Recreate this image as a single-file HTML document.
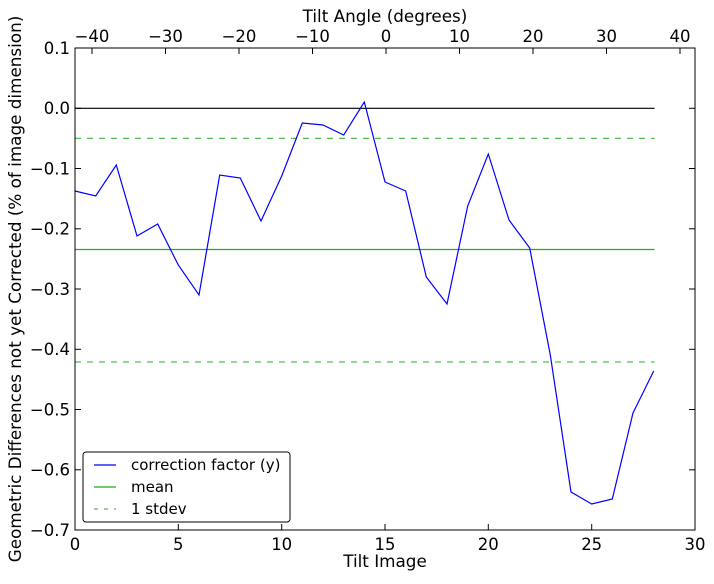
<!DOCTYPE html>
<html><head><meta charset="utf-8"><style>
html,body{margin:0;padding:0;background:#fff}
text{font-family:"DejaVu Sans","Liberation Sans",sans-serif;fill:#000}
</style></head><body>
<svg width="714" height="579" viewBox="0 0 714 579" xmlns="http://www.w3.org/2000/svg">
<rect width="714" height="579" fill="#fff"/>
<line x1="75" y1="108.3" x2="654.6" y2="108.3" stroke="#000" stroke-width="1.2"/>
<line x1="75" y1="249.5" x2="654.6" y2="249.5" stroke="#22aa22" stroke-width="1.2"/>
<line x1="75" y1="138.4" x2="654.6" y2="138.4" stroke="#55bb55" stroke-width="1.2" stroke-dasharray="6,6"/>
<line x1="75" y1="362" x2="654.6" y2="362" stroke="#55bb55" stroke-width="1.2" stroke-dasharray="6,6"/>
<polyline fill="none" stroke="#0000ff" stroke-width="1.2" points="75,191 95.7,196 116.3,165 137,236 157.7,224 178.3,265 199,295 219.7,175 240.3,178 261,221 281.7,176 302.3,123 323,125 343.7,135 364.3,102 385,182 405.7,191 426.3,277 447,304 467.7,206 488.3,154 509,220 529.7,248 550.3,355 571,492 591.7,504 612.3,499 633,413 653.7,371"/>
<rect x="75" y="48" width="620" height="482" fill="none" stroke="#000" stroke-width="1"/>
<g stroke="#000" stroke-width="1">
<line x1="75" y1="530" x2="75" y2="524"/><line x1="178.3" y1="530" x2="178.3" y2="524"/><line x1="281.7" y1="530" x2="281.7" y2="524"/><line x1="385" y1="530" x2="385" y2="524"/><line x1="488.3" y1="530" x2="488.3" y2="524"/><line x1="591.7" y1="530" x2="591.7" y2="524"/><line x1="695" y1="530" x2="695" y2="524"/>
<line x1="92" y1="48" x2="92" y2="54"/><line x1="165.5" y1="48" x2="165.5" y2="54"/><line x1="239" y1="48" x2="239" y2="54"/><line x1="312.5" y1="48" x2="312.5" y2="54"/><line x1="386" y1="48" x2="386" y2="54"/><line x1="459.5" y1="48" x2="459.5" y2="54"/><line x1="533" y1="48" x2="533" y2="54"/><line x1="606.5" y1="48" x2="606.5" y2="54"/><line x1="680" y1="48" x2="680" y2="54"/>
<line x1="75" y1="48" x2="81" y2="48"/><line x1="75" y1="108.3" x2="81" y2="108.3"/><line x1="75" y1="168.5" x2="81" y2="168.5"/><line x1="75" y1="228.8" x2="81" y2="228.8"/><line x1="75" y1="289" x2="81" y2="289"/><line x1="75" y1="349.3" x2="81" y2="349.3"/><line x1="75" y1="409.5" x2="81" y2="409.5"/><line x1="75" y1="469.8" x2="81" y2="469.8"/><line x1="75" y1="530" x2="81" y2="530"/>
<line x1="695" y1="48" x2="689" y2="48"/><line x1="695" y1="108.3" x2="689" y2="108.3"/><line x1="695" y1="168.5" x2="689" y2="168.5"/><line x1="695" y1="228.8" x2="689" y2="228.8"/><line x1="695" y1="289" x2="689" y2="289"/><line x1="695" y1="349.3" x2="689" y2="349.3"/><line x1="695" y1="409.5" x2="689" y2="409.5"/><line x1="695" y1="469.8" x2="689" y2="469.8"/><line x1="695" y1="530" x2="689" y2="530"/>
</g>
<g font-size="16.5" text-anchor="middle">
<text x="75" y="550">0</text><text x="178.3" y="550">5</text><text x="281.7" y="550">10</text><text x="385" y="550">15</text><text x="488.3" y="550">20</text><text x="591.7" y="550">25</text><text x="695" y="550">30</text>
<text x="92" y="42">−40</text><text x="165.5" y="42">−30</text><text x="239" y="42">−20</text><text x="312.5" y="42">−10</text><text x="386" y="42">0</text><text x="459.5" y="42">10</text><text x="533" y="42">20</text><text x="606.5" y="42">30</text><text x="680" y="42">40</text>
</g>
<g font-size="16.5" text-anchor="end">
<text x="70" y="54">0.1</text><text x="70" y="114">0.0</text><text x="70" y="174.5">−0.1</text><text x="70" y="234.5">−0.2</text><text x="70" y="295">−0.3</text><text x="70" y="355">−0.4</text><text x="70" y="415.5">−0.5</text><text x="70" y="475.5">−0.6</text><text x="70" y="536">−0.7</text>
</g>
<text x="385" y="567" font-size="16.8" text-anchor="middle">Tilt Image</text>
<text x="385" y="22" font-size="16.8" text-anchor="middle">Tilt Angle (degrees)</text>
<text transform="translate(21,289) rotate(-90)" font-size="16.8" text-anchor="middle">Geometric Differences not yet Corrected (% of image dimension)</text>
<rect x="83" y="452" width="207" height="70" rx="3" fill="#fff" stroke="#000" stroke-width="1"/>
<line x1="94" y1="465" x2="116" y2="465" stroke="#0000ff" stroke-width="1.2"/>
<line x1="94" y1="487" x2="116" y2="487" stroke="#22aa22" stroke-width="1.2"/>
<line x1="94" y1="509" x2="116" y2="509" stroke="#55bb55" stroke-width="1.2" stroke-dasharray="4,6"/>
<g font-size="15">
<text x="131" y="470">correction factor (y)</text>
<text x="131" y="492">mean</text>
<text x="131" y="514">1 stdev</text>
</g>
</svg>
</body></html>
